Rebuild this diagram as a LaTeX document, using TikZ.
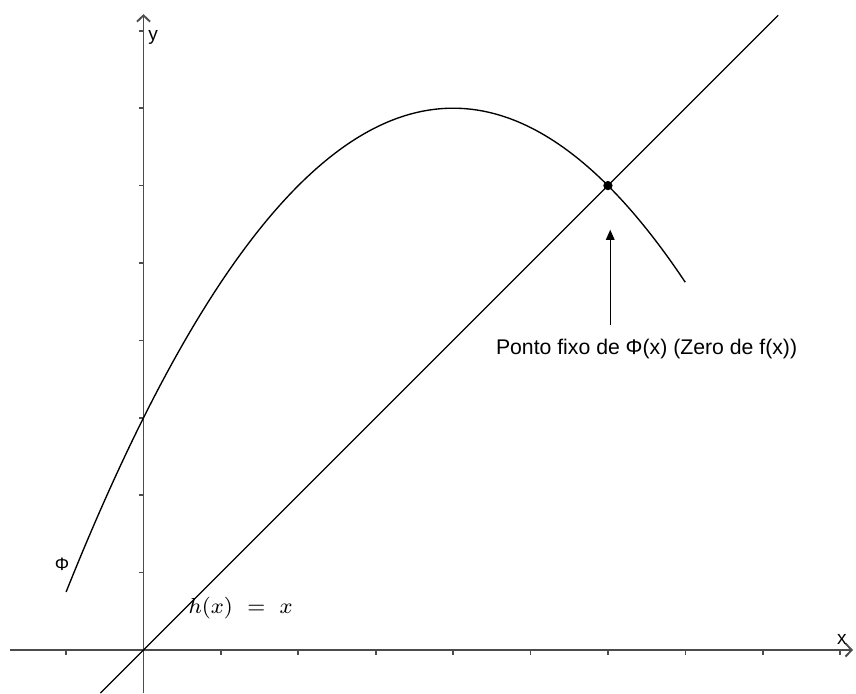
\documentclass[tikz,border=0pt]{standalone}
\usepackage{fontspec}
\newfontfamily\arialf{Liberation Sans}
\usetikzlibrary{arrows.meta}
\begin{document}
\begin{tikzpicture}[x=1cm,y=1cm,
  axisline/.style={black!70,line width=0.7pt},
  curveline/.style={black,line width=0.5pt},
  tickmark/.style={black!70,line width=0.6pt},
  lbl/.style={inner sep=0pt,font=\arialf\fontsize{7.8}{9}\selectfont},
  axlbl/.style={inner sep=0pt,font=\arialf\fontsize{7}{8}\selectfont}]
\useasboundingbox (-1.854,-0.556) rectangle (9.205,8.398);
% axes
\coordinate (xs) at (-1.725,0);
\coordinate (xe) at (9.166,0);
\coordinate (ys) at (0,-0.556);
\coordinate (ye) at (0,8.215);
\draw[axisline,-{Straight Barb[length=0.8mm,width=1.7mm]}] (xs) -- (xe);
\draw[axisline,-{Straight Barb[length=0.8mm,width=1.7mm]}] (ys) -- (ye);
\foreach \i in {-1,1,2,...,9} \draw[tickmark] (\i,0) -- (\i,-0.06);
\foreach \j in {1,...,8} \draw[tickmark] (0,\j) -- (-0.06,\j);
\node[axlbl] (xl) at (9.023,0.142) {x};
\node[axlbl] (yl) at (0.123,7.917) {y};
% line h(x)=x
\coordinate (hs) at (-0.556,-0.556);
\coordinate (he) at (8.2,8.2);
\draw[curveline] (hs) -- (he);
% parabola
\draw[curveline,domain=-1:7,samples=100,smooth] plot (\x,{7-(\x-4)*(\x-4)/4});
% fixed point
\node[circle,fill=black,inner sep=0pt,minimum size=0.12cm] (fp) at (6,6) {};
% labels
\node[lbl,anchor=base west] (txt) at (4.547,3.816) {Ponto fixo de Φ(x) (Zero de f(x))};
\coordinate (ab) at (6.03,4.2);
\coordinate (at) at (6.03,5.43);
\draw[curveline,-{Triangle[length=0.13cm,width=0.11cm]}] (ab) -- (at);
\node[inner sep=0pt,font=\arialf\fontsize{6.6}{8}\selectfont] (phi) at (-1.054,1.11) {Φ};
\node[inner sep=0pt,anchor=base west,font=\fontsize{8.5}{10}\selectfont] (hl) at (0.576,0.466) {$h(x)\ =\ x$};
\end{tikzpicture}
\end{document}
